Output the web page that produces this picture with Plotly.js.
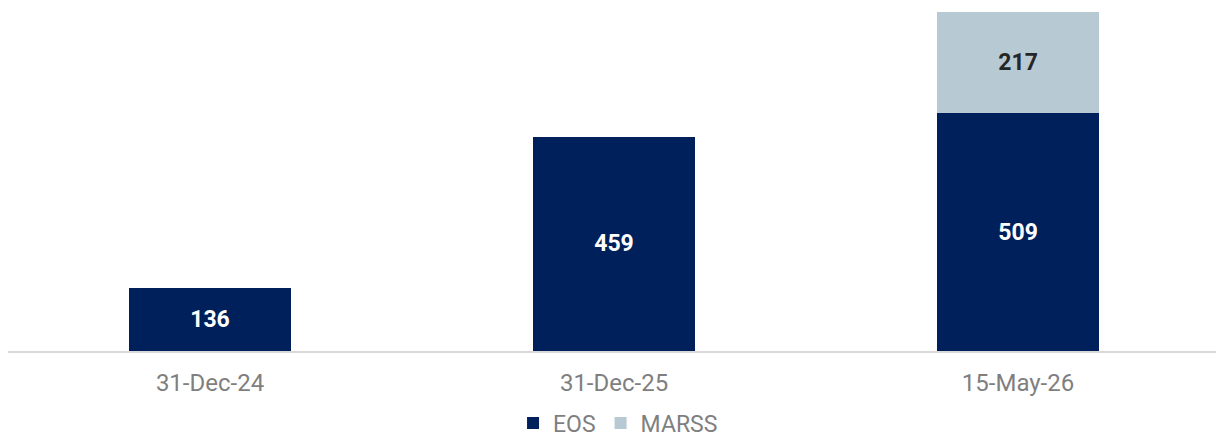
<!DOCTYPE html>
<html>
<head>
<meta charset="utf-8">
<script src="https://cdn.plot.ly/plotly-3.0.1.min.js"></script>
<style>html,body{margin:0;padding:0;background:#fff;}#chart{width:1216px;height:443px;}</style>
</head>
<body>
<div id="chart"></div>
<script>
const categories = ['31-Dec-24', '31-Dec-25', '15-May-26'];
const eosValues = [136, 459, 509];
const marssValues = [null, null, 217];

const traces = [
  {
    type: 'bar', name: 'EOS', x: categories, y: eosValues,
    marker: {color: '#00205B'},
    width: 0.4,
    text: eosValues.map(v => v == null ? '' : String(v)),
    textposition: 'inside', insidetextanchor: 'middle', textangle: 0,
    textfont: {family: 'Roboto', size: 23, color: '#FFFFFF', weight: 'bold'},
    constraintext: 'none',
    hoverinfo: 'skip'
  },
  {
    type: 'bar', name: 'MARSS', x: categories, y: marssValues,
    marker: {color: '#B7C9D3'},
    width: 0.4,
    text: marssValues.map(v => v == null ? '' : String(v)),
    textposition: 'inside', insidetextanchor: 'middle', textangle: 0,
    textfont: {family: 'Roboto', size: 23, color: '#262626', weight: 'bold'},
    constraintext: 'none',
    hoverinfo: 'skip'
  }
];

const layout = {
  width: 1216, height: 443,
  margin: {l: 8, r: 0, t: 0, b: 92, autoexpand: false},
  barmode: 'stack',
  paper_bgcolor: '#fff', plot_bgcolor: '#fff',
  font: {family: 'Roboto', color: '#7F7F7F'},
  showlegend: true,
  legend: {
    orientation: 'h', x: 0.505, xanchor: 'center', yref: 'container', y: 0.045, yanchor: 'middle',
    font: {family: 'Roboto', size: 23, color: '#7F7F7F'},
    itemwidth: 30, traceorder: 'normal'
  },
  xaxis: {
    type: 'category', range: [-0.5, 2.49],
    showgrid: false, zeroline: false,
    showline: true, linecolor: '#D9D9D9', linewidth: 2,
    ticks: '', ticklabelstandoff: 9,
    tickfont: {family: 'Roboto', size: 24, color: '#7F7F7F'}
  },
  yaxis: {
    range: [0, 752], visible: false, showgrid: false, zeroline: false
  }
};

Plotly.newPlot('chart', traces, layout, {displayModeBar: false, staticPlot: true});
</script>
</body>
</html>
